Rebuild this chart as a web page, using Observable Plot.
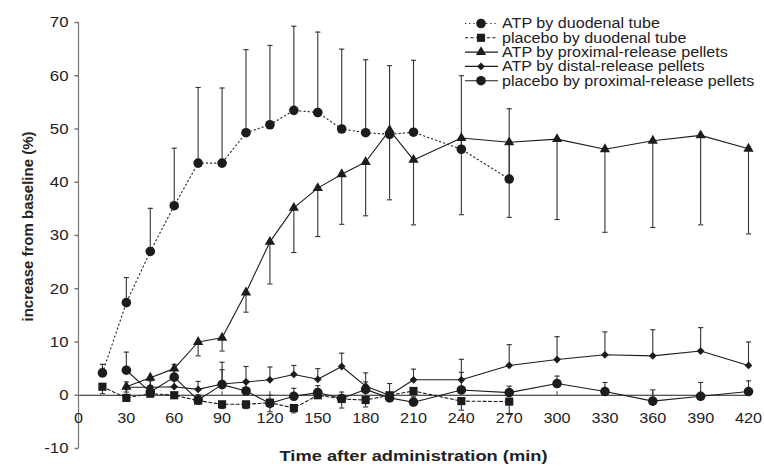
<!DOCTYPE html>
<html><head><meta charset="utf-8">
<script src="https://cdn.jsdelivr.net/npm/d3@7"></script>
<script src="https://cdn.jsdelivr.net/npm/@observablehq/plot@0.6"></script>
<style>
body{margin:0;background:#fff;}
#wrap{position:relative;width:764px;height:468px;overflow:hidden;}
#legend{position:absolute;left:0;top:0;pointer-events:none;}
</style></head><body><div id="wrap"></div>
<script>
// ---- data ----
const seriesNames = [
  "ATP by duodenal tube",
  "placebo by duodenal tube",
  "ATP by proximal-release pellets",
  "ATP by distal-release pellets",
  "placebo by proximal-release pellets"
];
const duodenalTimes = [15,30,45,60,75,90,105,120,135,150,165,180,195,210,240,270];
const pelletTimes = [30,45,60,75,90,105,120,135,150,165,180,195,210,240,270,300,330,360,390,420];

const atpDuodenal    = [4.2,17.4,27.0,35.6,43.6,43.6,49.3,50.8,53.5,53.1,50.0,49.3,49.0,49.4,46.2,40.6];
const atpDuodenalSE  = [1.6,4.7,8.1,10.8,14.2,14.1,15.6,14.9,15.8,15.1,15.0,13.7,12.9,13.5,13.8,13.2];
const plcDuodenal    = [1.6,-0.5,0.3,0.0,-1.0,-1.7,-1.7,-1.4,-2.4,0.0,-0.7,-0.9,0.0,0.8,-1.1,-1.2];
const plcDuodenalSE  = [1.3,0.4,0.6,0.5,0.6,0.8,0.8,1.7,0.9,0.6,1.7,1.3,0.5,0.6,1.7,2.4];
const atpProximal    = [1.6,3.3,5.0,10.0,10.8,19.3,28.8,35.2,38.9,41.5,43.8,49.8,44.2,48.3,47.5,48.1,46.2,47.8,48.8,46.3];
const atpProximalSE  = [1.0,1.5,1.7,2.6,2.5,3.7,7.9,8.4,9.1,9.4,10.1,13.1,12.2,14.4,14.1,15.1,15.6,16.3,16.8,16.0];
const atpDistal      = [1.5,1.5,1.6,1.1,2.1,2.5,2.9,3.9,3.0,5.4,1.7,0.0,2.9,2.9,5.6,6.7,7.6,7.4,8.3,5.6];
const atpDistalSE    = [1.0,1.2,1.3,1.5,2.7,2.9,2.4,1.7,2.0,2.5,2.5,2.2,2.0,3.85,3.9,4.3,4.3,4.9,4.4,4.4];
const plcProximal    = [4.7,0.6,3.4,-0.9,2.0,0.8,-1.5,-0.2,0.5,-0.6,1.1,-0.5,-1.3,1.0,0.5,2.2,0.7,-1.1,-0.2,0.7];
const plcProximalSE  = [3.4,1.2,2.4,1.0,4.2,2.0,1.5,1.5,1.3,1.2,1.4,1.0,1.0,3.3,1.2,1.4,1.7,2.1,2.6,2.0];

const xTicks = [0,30,60,90,120,150,180,210,240,270,300,330,360,390,420];
const yTicks = [-10,0,10,20,30,40,50,60,70];

// ---- series table ----
const series = [
  {name: seriesNames[0], t: duodenalTimes, v: atpDuodenal, se: atpDuodenalSE, dir: 1,  symbol: "circle",   r: 4.8, dash: "1.2,3"},
  {name: seriesNames[1], t: duodenalTimes, v: plcDuodenal, se: plcDuodenalSE, dir: -1, symbol: "square",   r: 4.6, dash: "3,2.5"},
  {name: seriesNames[2], t: pelletTimes,   v: atpProximal, se: atpProximalSE, dir: -1, symbol: "triangle", r: 3.8, dash: null},
  {name: seriesNames[3], t: pelletTimes,   v: atpDistal,   se: atpDistalSE,   dir: 1,  symbol: "diamond2", r: 3.5, dash: null},
  {name: seriesNames[4], t: pelletTimes,   v: plcProximal, se: plcProximalSE, dir: 1,  symbol: "circle",   r: 4.8, dash: null}
];
series.forEach(s => {
  s.rows = s.t.map((t, i) => ({t, v: s.v[i], end: s.v[i] + s.dir * s.se[i]}));
});

const ink = "#1c1c1c";
const font = "'Liberation Sans', Arial, Helvetica, sans-serif";
// fills that differ invisibly, used to find each group of texts afterwards
const yTickFill = "#212121", xTickFill = "#222222", xTitleFill = "#232323", yTitleFill = "#242424";
const capSymbol = {draw(ctx, size) { const w = Math.sqrt(size / Math.PI); ctx.moveTo(-w, 0); ctx.lineTo(w, 0); }};
const upTick = {draw(ctx, size) { const h = Math.sqrt(size / Math.PI); ctx.moveTo(0, 0); ctx.lineTo(0, -h); }};
const leftTick = {draw(ctx, size) { const h = Math.sqrt(size / Math.PI); ctx.moveTo(0, 0); ctx.lineTo(-h, 0); }};

const marks = [
  Plot.ruleY([0], {stroke: ink, strokeWidth: 1}),
  Plot.ruleX([0], {y1: -10, y2: 70, stroke: "#777", strokeWidth: 1.2}),
  Plot.dot(yTicks, {x: 0, y: d => d, symbol: leftTick, r: 4, stroke: "#777", fill: "none"}),
  Plot.text(yTicks, {y: d => d, frameAnchor: "left", textAnchor: "end", lineAnchor: "middle", dx: -10, text: d => String(d), fill: yTickFill, fontSize: 15}),
  Plot.dot(xTicks.slice(1), {x: d => d, y: 0, symbol: upTick, r: 4, stroke: "#777", fill: "none"}),
  Plot.text(xTicks, {x: d => d, frameAnchor: "bottom", lineAnchor: "middle", dy: -30, text: d => String(d), fill: xTickFill, fontSize: 15}),
  Plot.text(["increase from baseline (%)"], {frameAnchor: "left", textAnchor: "middle", lineAnchor: "middle", rotate: -90, dx: -50, dy: -9, fontWeight: "bold", fontSize: 15, fill: yTitleFill}),
  Plot.text(["Time after administration (min)"], {frameAnchor: "bottom", textAnchor: "middle", lineAnchor: "middle", dy: 8, fontWeight: "bold", fontSize: 15, fill: xTitleFill})
];
series.forEach(s => {
  marks.push(Plot.line(s.rows, {x: "t", y: "v", stroke: ink, strokeWidth: 1.1, strokeDasharray: s.dash || undefined}));
});
series.forEach(s => {
  marks.push(Plot.ruleX(s.rows, {x: "t", y1: "v", y2: "end", stroke: "#333", strokeWidth: 1.1}));
  marks.push(Plot.dot(s.rows, {x: "t", y: "end", symbol: capSymbol, r: 2.6, stroke: "#333", strokeWidth: 1.1, fill: "none"}));
});
series.forEach(s => {
  marks.push(Plot.dot(s.rows, {x: "t", y: "v", symbol: s.symbol, r: s.r, fill: ink, stroke: "none"}));
});

const chart = Plot.plot({
  width: 764, height: 468,
  marginLeft: 78, marginRight: 16, marginTop: 22, marginBottom: 20,
  x: {domain: [0, 420], axis: null},
  y: {domain: [-10, 70], axis: null},
  style: {fontFamily: font, fontSize: "14px", color: "#222", background: "white", overflow: "visible"},
  marks
});
const wrap = document.getElementById("wrap");
wrap.appendChild(chart);

// ---- legend (overlay, top right) ----
const lg = d3.select(wrap).append("svg").attr("id", "legend").attr("width", 764).attr("height", 468)
  .style("font-family", font).style("font-size", "14px");
const symMap = {circle: d3.symbolCircle, square: d3.symbolSquare, triangle: d3.symbolTriangle, diamond2: d3.symbolDiamond2};
series.forEach((s, i) => {
  const g = lg.append("g").attr("transform", `translate(465,${23.5 + i * 14.3})`);
  g.append("line").attr("x1", 0).attr("x2", 33).attr("y1", 0).attr("y2", 0)
    .attr("stroke", ink).attr("stroke-width", 1.1).attr("stroke-dasharray", s.dash || null);
  g.append("path").attr("transform", "translate(16,0)")
    .attr("d", d3.symbol(symMap[s.symbol], Math.PI * s.r * s.r)()).attr("fill", ink);
  g.append("text").attr("class", "lgtext").attr("x", 37).attr("y", 0).attr("dy", "0.35em").attr("fill", "#222").text(s.name);
});

// the reference's horizontal texts are drawn wider than their height suggests
function widen(nodes, k) {
  nodes.forEach(n => {
    const L = n.getComputedTextLength();
    if (L > 0) { n.setAttribute("textLength", (L * k).toFixed(1)); n.setAttribute("lengthAdjust", "spacingAndGlyphs"); }
  });
}
widen(chart.querySelectorAll(`g[fill="${yTickFill}"] text`), 1.12);
widen(chart.querySelectorAll(`g[fill="${xTickFill}"] text`), 1.08);
widen(chart.querySelectorAll(`g[fill="${xTitleFill}"] text`), 1.22);
widen(lg.node().querySelectorAll("text.lgtext"), 1.15);
</script></body></html>
